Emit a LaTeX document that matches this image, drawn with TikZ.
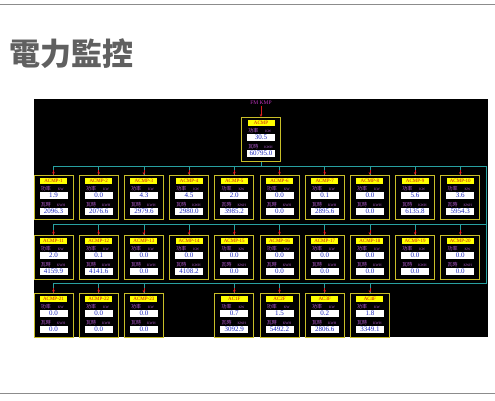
\documentclass[tikz,border=0pt]{standalone}
\usepackage{fontspec}
\setmainfont{Liberation Serif}
\newfontfamily\cjk{Noto Sans CJK TC}
\usetikzlibrary{arrows.meta, positioning, calc}
\definecolor{slidegray}{RGB}{96,96,96}
\definecolor{rulegray}{RGB}{140,140,140}
\definecolor{meterline}{RGB}{200,190,40}
\definecolor{tagyellow}{RGB}{255,255,0}
\definecolor{tagred}{RGB}{200,20,20}
\definecolor{valblue}{RGB}{30,40,190}
\definecolor{unitpurple}{RGB}{180,90,210}
\definecolor{sourcemag}{RGB}{190,50,190}
\definecolor{busteal}{RGB}{40,160,160}
\definecolor{feedred}{RGB}{220,30,30}
\tikzset{
    title/.style={text=slidegray, inner sep=0pt, font=\cjk\bfseries\fontsize{31}{31}\selectfont},
    meter/.style={draw=meterline, fill=black, line width=0.8pt, minimum width=39pt, minimum height=44pt, inner sep=0pt, anchor=north},
    tag/.style={fill=tagyellow, text=tagred, minimum width=27pt, minimum height=6.5pt, inner sep=0pt, font=\fontsize{5}{5}\selectfont},
    reading/.style={fill=white, text=valblue, minimum width=28pt, minimum height=7pt, inner sep=0pt, font=\fontsize{7}{7}\selectfont},
    qty/.style={text=unitpurple, inner sep=0pt, anchor=west, font=\cjk\fontsize{5}{5}\selectfont},
    unit/.style={text=unitpurple, inner sep=0pt, anchor=west, font=\fontsize{3.5}{3.5}\selectfont},
    source/.style={text=sourcemag, inner sep=0.5pt, font=\fontsize{5.5}{6}\selectfont},
    bus/.style={draw=busteal, line width=0.8pt},
    feed/.style={draw=feedred, line width=0.6pt, -{Stealth[length=3pt,width=2.5pt]}}
}
% one meter panel: name, x, top y, tag, power, energy
\newcommand{\meter}[6]{%
    \node[meter] (#1) at (#2,#3) {};
    \node[tag] (#1-tag) at ([yshift=-6pt]#1.north) {#4};
    \node[qty] (#1-pl) at ([shift={(7,14)}]#1.north west) {功率};
    \node[unit] (#1-pu) at ([shift={(24,14.5)}]#1.north west) {KW};
    \node[reading] (#1-p) at ([yshift=-20.5pt]#1.north) {#5};
    \node[qty] (#1-el) at ([shift={(7,30)}]#1.north west) {瓦時};
    \node[unit] (#1-eu) at ([shift={(23,30.5)}]#1.north west) {KWH};
    \node[reading] (#1-e) at ([yshift=-36.5pt]#1.north) {#6};
}

\begin{document}
\begin{tikzpicture}[x=1pt, y=-1pt]
    \useasboundingbox (0,0) rectangle (495,400);
    \draw[rulegray, line width=1pt] (0,4) -- (495,4);
    \draw[rulegray, line width=1pt] (0,393) -- (495,393);
    \node[title] (title) at (71.5,54) {電力監控};
    \fill[black] (34,99) rectangle (488,337);

    % meters
    \node[source] (fm) at (261,103) {FM KMP};
    \meter{top}{261}{117}{ACMP}{30.5}{60795.0}
    \foreach \kw/\kwh [count=\i, evaluate=\i as \x using 53.5+(\i-1)*45.2] in
        {1.9/2096.3, 0.0/2076.6, 4.3/2979.6, 4.5/2980.0, 2.0/3985.2,
         0.0/0.0, 0.1/2895.6, 0.0/0.0, 5.6/6135.8, 3.6/5954.3}
        {\meter{m\i}{\x}{175}{ACMP-\i}{\kw}{\kwh}}
    \foreach \kw/\kwh [count=\i from 11, evaluate=\i as \x using 53.5+(\i-11)*45.2] in
        {2.0/4159.9, 0.1/4141.6, 0.0/0.0, 0.0/4108.2, 0.0/0.0,
         0.0/0.0, 0.0/0.0, 0.0/0.0, 0.0/0.0, 0.0/0.0}
        {\meter{m\i}{\x}{235}{ACMP-\i}{\kw}{\kwh}}
    \foreach \i [evaluate=\i as \x using 53.5+(\i-21)*45.2] in {21,22,23}
        {\meter{m\i}{\x}{293}{ACMP-\i}{0.0}{0.0}}
    \foreach \kw/\kwh [count=\i, evaluate=\i as \x using 234.3+(\i-1)*45.2] in
        {0.7/3092.9, 1.5/5492.2, 0.2/2806.6, 1.8/3349.1}
        {\meter{f\i}{\x}{293}{AC\i F}{\kw}{\kwh}}

    % buses
    \coordinate (busA) at (486,166);
    \coordinate (busB) at (486,224);
    \coordinate (busC) at (486,283);
    \draw[bus] (top) -- (top |- busA);
    \draw[bus] (m1.north |- busA) -- (busA) -- (busC) -- (m21.north |- busC);
    \draw[bus] (m11.north |- busB) -- (busB);
    \foreach \n in {1,...,10} \draw[bus] (m\n.north |- busA) -- (m\n);
    \foreach \n in {11,...,20} \draw[bus] (m\n.north |- busB) -- (m\n);
    \foreach \n in {21,22,23} \draw[bus] (m\n.north |- busC) -- (m\n);
    \foreach \n in {1,...,4} \draw[bus] (f\n.north |- busC) -- (f\n);
    \foreach \n in {1,...,23} \draw[feed] ([yshift=5pt]m\n.north) -- (m\n);
    \foreach \n in {1,...,4} \draw[feed] ([yshift=5pt]f\n.north) -- (f\n);
    \draw[feed] (fm) -- (top);
\end{tikzpicture}
\end{document}
